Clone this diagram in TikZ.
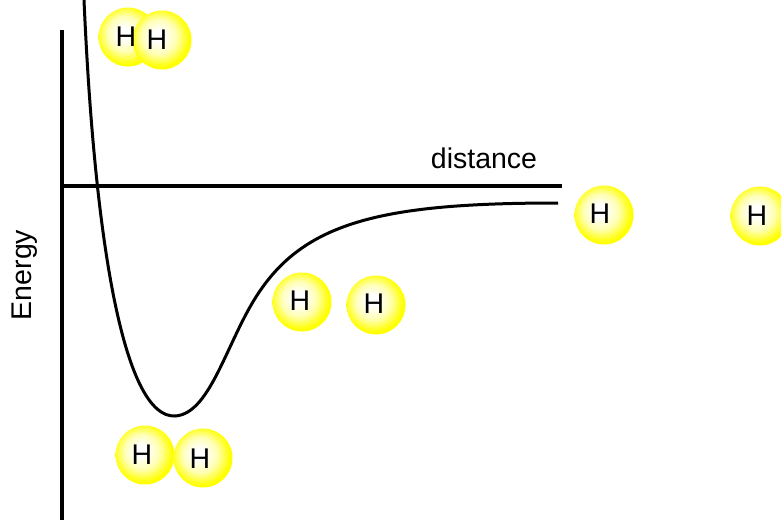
\documentclass[tikz,border=0pt]{standalone}
\usepackage{fontspec}
\setmainfont{Liberation Sans}
\pgfdeclareradialshading{hball}{\pgfpoint{-4bp}{4bp}}{color(0bp)=(white); color(5bp)=(white); color(15bp)=(yellow!30!white); color(22bp)=(yellow!80!white); color(25bp)=(yellow); color(50bp)=(yellow)}
\tikzset{
  ball/.style={circle, minimum size=59pt, inner sep=0pt, shading=hball, draw=none},
  lbl/.style={font=\fontsize{28.5}{31}\selectfont, inner sep=0pt},
  axis/.style={line width=3.3pt},
  curve/.style={line width=3pt}
}
\begin{document}
\begin{tikzpicture}[x=1pt,y=-1pt]
\useasboundingbox (0,0) rectangle (781,520);
% axes
\coordinate (ytop) at (62,30);
\coordinate (ybot) at (62,520);
\coordinate (xl) at (60,186);
\coordinate (xr) at (562,186);
\draw[axis] (ytop) -- (ybot);
\draw[axis] (xl) -- (xr);
% curve
\coordinate (c0) at (84,0);
\coordinate (c1) at (175,416);
\coordinate (c2) at (262,288);
\coordinate (c3) at (558,203);
\draw[curve] (c0) .. controls (95,250) and (125,418) .. (c1)
  .. controls (212,414) and (228,335) .. (c2)
  .. controls (310,220) and (390,203) .. (c3);
% balls
\node[ball] (h1) at (128,37) {};
\node[ball] (h2) at (162,40) {};
\node[ball] (h3) at (604,215) {};
\node[ball] (h4) at (760,216) {};
\node[ball] (h5) at (302,302) {};
\node[ball] (h6) at (376,305) {};
\node[ball] (h7) at (145,455) {};
\node[ball] (h8) at (203,458) {};
\node[lbl] (t1) at (126,37) {H};
\node[lbl] (t2) at (157,40) {H};
\node[lbl] (t3) at (600,214) {H};
\node[lbl] (t4) at (757,216) {H};
\node[lbl] (t5) at (300,301) {H};
\node[lbl] (t6) at (374,304) {H};
\node[lbl] (t7) at (142,455) {H};
\node[lbl] (t8) at (200,459) {H};
% labels
\node[lbl] (dist) at (484,158) {distance};
\node[lbl, rotate=90] (energy) at (25,275) {Energy};
\end{tikzpicture}
\end{document}
